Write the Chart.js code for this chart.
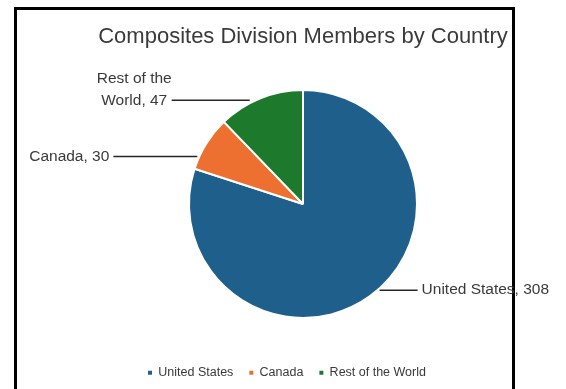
<!DOCTYPE html>
<html>
<head>
<meta charset="utf-8">
<script src="https://cdn.jsdelivr.net/npm/chart.js@4.4.0/dist/chart.umd.min.js"></script>
<style>
  html, body { margin: 0; padding: 0; background: #fff; overflow: hidden; }
  #frame { position: absolute; left: 14px; top: 7px; width: 495px; height: 420px; border: 3px solid #000; }
  #wrap { position: absolute; left: 0; top: 0; width: 566px; height: 389px; }
</style>
</head>
<body>
<div id="frame"></div>
<div id="wrap"><canvas id="myChart" width="566" height="389"></canvas></div>
<script>
var countries = ['United States', 'Canada', 'Rest of the World'];
var members = [308, 30, 47];
var sliceColors = ['#1f5f8b', '#ed7031', '#1d7a2c'];

var fontFamily = "'Liberation Sans', Arial, sans-serif";
var textColor = '#3a3a3a';

// split a label into lines no wider than maxW
function wrapText(ctx, text, maxW) {
    var words = text.split(' ');
    var lines = [];
    var cur = '';
    words.forEach(function (w) {
        var test = cur ? cur + ' ' + w : w;
        if (cur && ctx.measureText(test).width > maxW) {
            lines.push(cur);
            cur = w;
        } else {
            cur = test;
        }
    });
    lines.push(cur);
    return lines;
}

// outside labels with horizontal leader lines
var pieLabels = {
    id: 'pieLabels',
    afterDatasetsDraw: function (chart, args, opts) {
        var ctx = chart.ctx;
        var meta = chart.getDatasetMeta(0);
        ctx.save();
        ctx.font = opts.font;
        ctx.fillStyle = opts.color;
        ctx.strokeStyle = opts.lineColor;
        ctx.lineWidth = opts.lineWidth;
        ctx.textBaseline = 'middle';
        ctx.textAlign = 'center';
        meta.data.forEach(function (arc, i) {
            var p = arc.getProps(['x', 'y', 'startAngle', 'endAngle', 'outerRadius'], true);
            var mid = (p.startAngle + p.endAngle) / 2;
            var r = p.outerRadius;
            var ay = p.y + Math.sin(mid) * r + opts.dy[i];
            var side = Math.cos(mid) >= 0 ? 1 : -1;
            var dx = Math.sqrt(Math.max(r * r - (ay - p.y) * (ay - p.y), 0));
            var x0 = p.x + side * (dx + opts.gap[i]);
            var x1 = x0 + side * opts.len[i];
            ctx.beginPath();
            ctx.moveTo(x0, ay);
            ctx.lineTo(x1, ay);
            ctx.stroke();

            var text = chart.data.labels[i] + ', ' + chart.data.datasets[0].data[i];
            var lines = wrapText(ctx, text, opts.wrap[i]);
            var w = 0;
            lines.forEach(function (l) { w = Math.max(w, ctx.measureText(l).width); });
            var cx = x1 + side * (opts.textGap[i] + w / 2);
            lines.forEach(function (l, k) {
                ctx.fillText(l, cx, ay - (lines.length - 1 - k) * opts.lineHeight);
            });
        });
        ctx.restore();
    }
};

// legend sits a little left of the pie in the original
var legendShift = {
    id: 'legendShift',
    afterLayout: function (chart, args, opts) {
        chart.legend.left += opts.dx;
        chart.legend.right += opts.dx;
    }
};

var chart = document.getElementById('myChart').getContext('2d');

var pieChart = new Chart(chart, {
    type: 'pie',
    data: {
        labels: countries,
        datasets: [
            {
                data: members,
                backgroundColor: sliceColors,
                borderColor: '#ffffff',
                borderWidth: 2,
                radius: 114,
                hoverOffset: 0
            }
        ]
    },
    options: {
        responsive: false,
        animation: false,
        devicePixelRatio: 1,
        layout: { padding: { left: 40, right: 0, top: 0, bottom: 0 } },
        plugins: {
            title: {
                display: true,
                text: 'Composites Division Members by Country',
                color: textColor,
                font: { family: fontFamily, size: 22, weight: 'normal' },
                padding: { top: 24, bottom: 7 }
            },
            legend: {
                position: 'bottom',
                labels: {
                    boxWidth: 4,
                    boxHeight: 4,
                    padding: 16,
                    color: textColor,
                    font: { family: fontFamily, size: 12.5 },
                    generateLabels: function (c) {
                        var items = Chart.overrides.pie.plugins.legend.labels.generateLabels(c);
                        items.forEach(function (it) {
                            it.lineWidth = 0;
                            it.strokeStyle = it.fillStyle;
                        });
                        return items;
                    }
                }
            },
            tooltip: { enabled: false },
            legendShift: { dx: -16 },
            pieLabels: {
                font: '15.5px ' + fontFamily,
                color: textColor,
                lineColor: '#262626',
                lineWidth: 1.5,
                lineHeight: 22,
                textGap: [4, 4, 0],
                dy: [-6, 13, 2],
                gap: [2, 2, 6],
                len: [38, 84, 78],
                wrap: [200, 200, 100]
            }
        }
    },
    plugins: [pieLabels, legendShift]
});
</script>
</body>
</html>
